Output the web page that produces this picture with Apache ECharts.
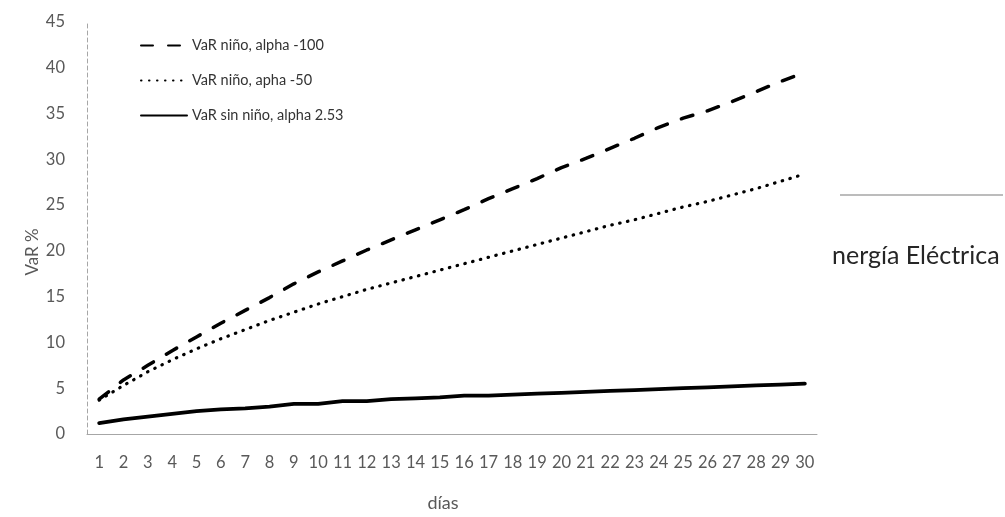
<!DOCTYPE html>
<html>
<head>
<meta charset="utf-8">
<script src="https://cdn.jsdelivr.net/npm/echarts@6/dist/echarts.min.js"></script>
<style>
html,body{margin:0;padding:0;background:#fff;}
#chart{width:1005px;height:517px;}
</style>
</head>
<body>
<div id="chart"></div>
<script>
const days = ['1','2','3','4','5','6','7','8','9','10','11','12','13','14','15','16','17','18','19','20','21','22','23','24','25','26','27','28','29','30'];
const yTicks = ['0','5','10','15','20','25','30','35','40','45'];
const seriesNames = ['VaR niño, alpha -100', 'VaR niño, apha -50', 'VaR sin niño, alpha 2.53'];
const varAlpha100 = [3.8, 5.9, 7.5, 9.1, 10.6, 12.1, 13.5, 14.9, 16.4, 17.7, 18.9, 20.1, 21.2, 22.3, 23.4, 24.5, 25.7, 26.8, 27.9, 29.1, 30.1, 31.2, 32.3, 33.5, 34.5, 35.3, 36.3, 37.4, 38.5, 39.5];
const varAlpha50 = [3.7, 5.3, 6.8, 8.1, 9.3, 10.4, 11.4, 12.4, 13.3, 14.2, 15.0, 15.8, 16.5, 17.2, 17.9, 18.6, 19.3, 20.0, 20.7, 21.4, 22.1, 22.8, 23.4, 24.1, 24.8, 25.4, 26.1, 26.8, 27.6, 28.4];
const varSinNino = [1.2, 1.6, 1.9, 2.2, 2.5, 2.7, 2.8, 3.0, 3.3, 3.3, 3.6, 3.6, 3.8, 3.9, 4.0, 4.2, 4.2, 4.3, 4.4, 4.5, 4.6, 4.7, 4.8, 4.9, 5.0, 5.1, 5.2, 5.3, 5.4, 5.5];
const xName = 'días';
const yName = 'VaR %';
const strayText = 'nergía Eléctrica';

const FONT = 'Lato';
const chart = echarts.init(document.getElementById('chart'), null, {renderer: 'canvas'});
chart.setOption({
  animation: false,
  backgroundColor: '#ffffff',
  grid: {left: 87, top: 22, right: 188, bottom: 77, containLabel: false},
  legend: {
    orient: 'vertical',
    left: 135,
    top: 33,
    itemWidth: 46,
    itemHeight: 2,
    itemGap: 20,
    itemStyle: {opacity: 0, borderWidth: 0},
    textStyle: {fontFamily: FONT, fontSize: 14.5, color: '#333333'},
    data: seriesNames
  },
  xAxis: {
    type: 'category',
    data: days,
    boundaryGap: true,
    name: xName,
    nameLocation: 'middle',
    nameGap: 60,
    nameTextStyle: {fontFamily: FONT, fontSize: 18, color: '#595959', padding: [0, 18, 0, 0]},
    axisLine: {show: true, lineStyle: {color: '#a6a6a6', width: 1}},
    axisTick: {show: false},
    axisLabel: {interval: 0, margin: 20, fontFamily: FONT, fontSize: 16.5, color: '#595959'}
  },
  yAxis: {
    type: 'value',
    min: 0,
    max: 45,
    interval: 5,
    axisLine: {show: true, lineStyle: {color: '#a6a6a6', width: 1, type: [4, 3]}},
    axisTick: {show: false},
    splitLine: {show: false},
    axisLabel: {margin: 22, fontFamily: FONT, fontSize: 16.5, color: '#595959',
      formatter: function (v) { return yTicks[Math.round(v / 5)]; }}
  },
  graphic: [
    {type: 'line', shape: {x1: 840, y1: 195, x2: 1003, y2: 195}, style: {stroke: '#a6a6a6', lineWidth: 1.5}, silent: true},
    {type: 'text', x: 832, y: 256, style: {text: strayText, fontFamily: FONT, fontSize: 25, fill: '#262626', textVerticalAlign: 'middle'}, silent: true},
    {type: 'text', x: 33, y: 252, rotation: Math.PI / 2, style: {text: yName, fontFamily: FONT, fontSize: 17, fill: '#595959', textAlign: 'center', textVerticalAlign: 'middle'}, silent: true}
  ],
  series: [
    {name: seriesNames[0], type: 'line', data: varAlpha100, symbol: 'none', showSymbol: false,
      lineStyle: {color: '#000', width: 3.5, type: [12, 15], cap: 'round'}, itemStyle: {color: '#000'}},
    {name: seriesNames[1], type: 'line', data: varAlpha50, symbol: 'none', showSymbol: false,
      lineStyle: {color: '#000', width: 3.2, type: [0.5, 7.5], cap: 'round'}, itemStyle: {color: '#000'}},
    {name: seriesNames[2], type: 'line', data: varSinNino, symbol: 'none', showSymbol: false,
      lineStyle: {color: '#000', width: 3.8, type: 'solid', cap: 'round'}, itemStyle: {color: '#000'}}
  ]
});
</script>
</body>
</html>
